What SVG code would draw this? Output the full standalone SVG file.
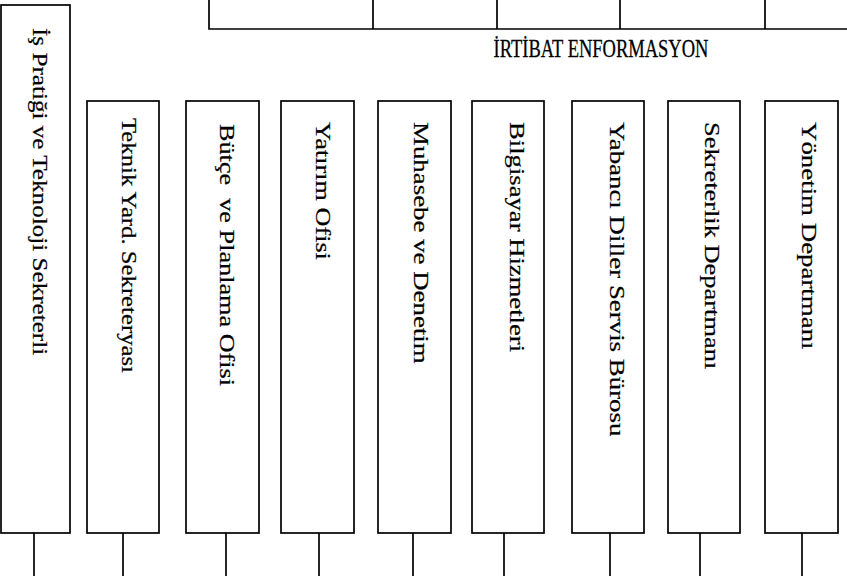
<svg xmlns="http://www.w3.org/2000/svg" width="847" height="576" viewBox="0 0 847 576">
<style>
.box{fill:#fff;stroke:#000;stroke-width:1.7}
.ln{fill:none;stroke:#000;stroke-width:1.7}
.t{font-family:"Liberation Serif","Times New Roman",serif;font-size:18.5px;fill:#000;stroke:#000;stroke-width:0.22}
.v{font-size:21.5px;white-space:pre}
</style>
<rect width="847" height="576" fill="#fff"/>
<g id="top-row">
<path class="ln" d="M209,0 V29 H847 M373,0 V29 M497,0 V29 M620,0 V29 M765,0 V29"/>
<text class="t" text-anchor="middle" transform="translate(601,57) scale(1,1.38)">İRTİBAT ENFORMASYON</text>
</g>
<g id="connectors">
<path class="ln" d="M34,533 V576 M123,533 V576 M226,533 V576 M319,533 V576 M413,533 V576 M504,533 V576 M610,533 V576 M700,533 V576 M802,533 V576"/>
</g>
<g id="n1"><rect class="box" x="1" y="5" width="69" height="528"/><text class="t v" transform="translate(33,28) rotate(90) scale(1.17,1)">İş Pratiği ve Teknoloji Sekreterli</text></g>
<g id="n2"><rect class="box" x="87" y="101" width="72" height="432"/><text class="t v" transform="translate(122,118) rotate(90) scale(1.15,1)">Teknik Yard. Sekreteryası</text></g>
<g id="n3"><rect class="box" x="186" y="101" width="73" height="432"/><text class="t v" xml:space="preserve" transform="translate(220,124) rotate(90) scale(1.22,1)">Bütçe  ve Planlama Ofisi</text></g>
<g id="n4"><rect class="box" x="281" y="101" width="73" height="432"/><text class="t v" transform="translate(316,122) rotate(90) scale(1.22,1)">Yatırım Ofisi</text></g>
<g id="n5"><rect class="box" x="378" y="101" width="73" height="432"/><text class="t v" transform="translate(414,122) rotate(90) scale(1.25,1)">Muhasebe ve Denetim</text></g>
<g id="n6"><rect class="box" x="472" y="101" width="72" height="432"/><text class="t v" transform="translate(510,122) rotate(90) scale(1.24,1)">Bilgisayar Hizmetleri</text></g>
<g id="n7"><rect class="box" x="572" y="101" width="72" height="432"/><text class="t v" transform="translate(610,122) rotate(90) scale(1.25,1)">Yabancı Diller Servis Bürosu</text></g>
<g id="n8"><rect class="box" x="668" y="101" width="72" height="432"/><text class="t v" transform="translate(705,122) rotate(90) scale(1.23,1)">Sekreterlik Departmanı</text></g>
<g id="n9"><rect class="box" x="765" y="101" width="73" height="432"/><text class="t v" transform="translate(802,122) rotate(90) scale(1.25,1)">Yönetim Departmanı</text></g>
</svg>
